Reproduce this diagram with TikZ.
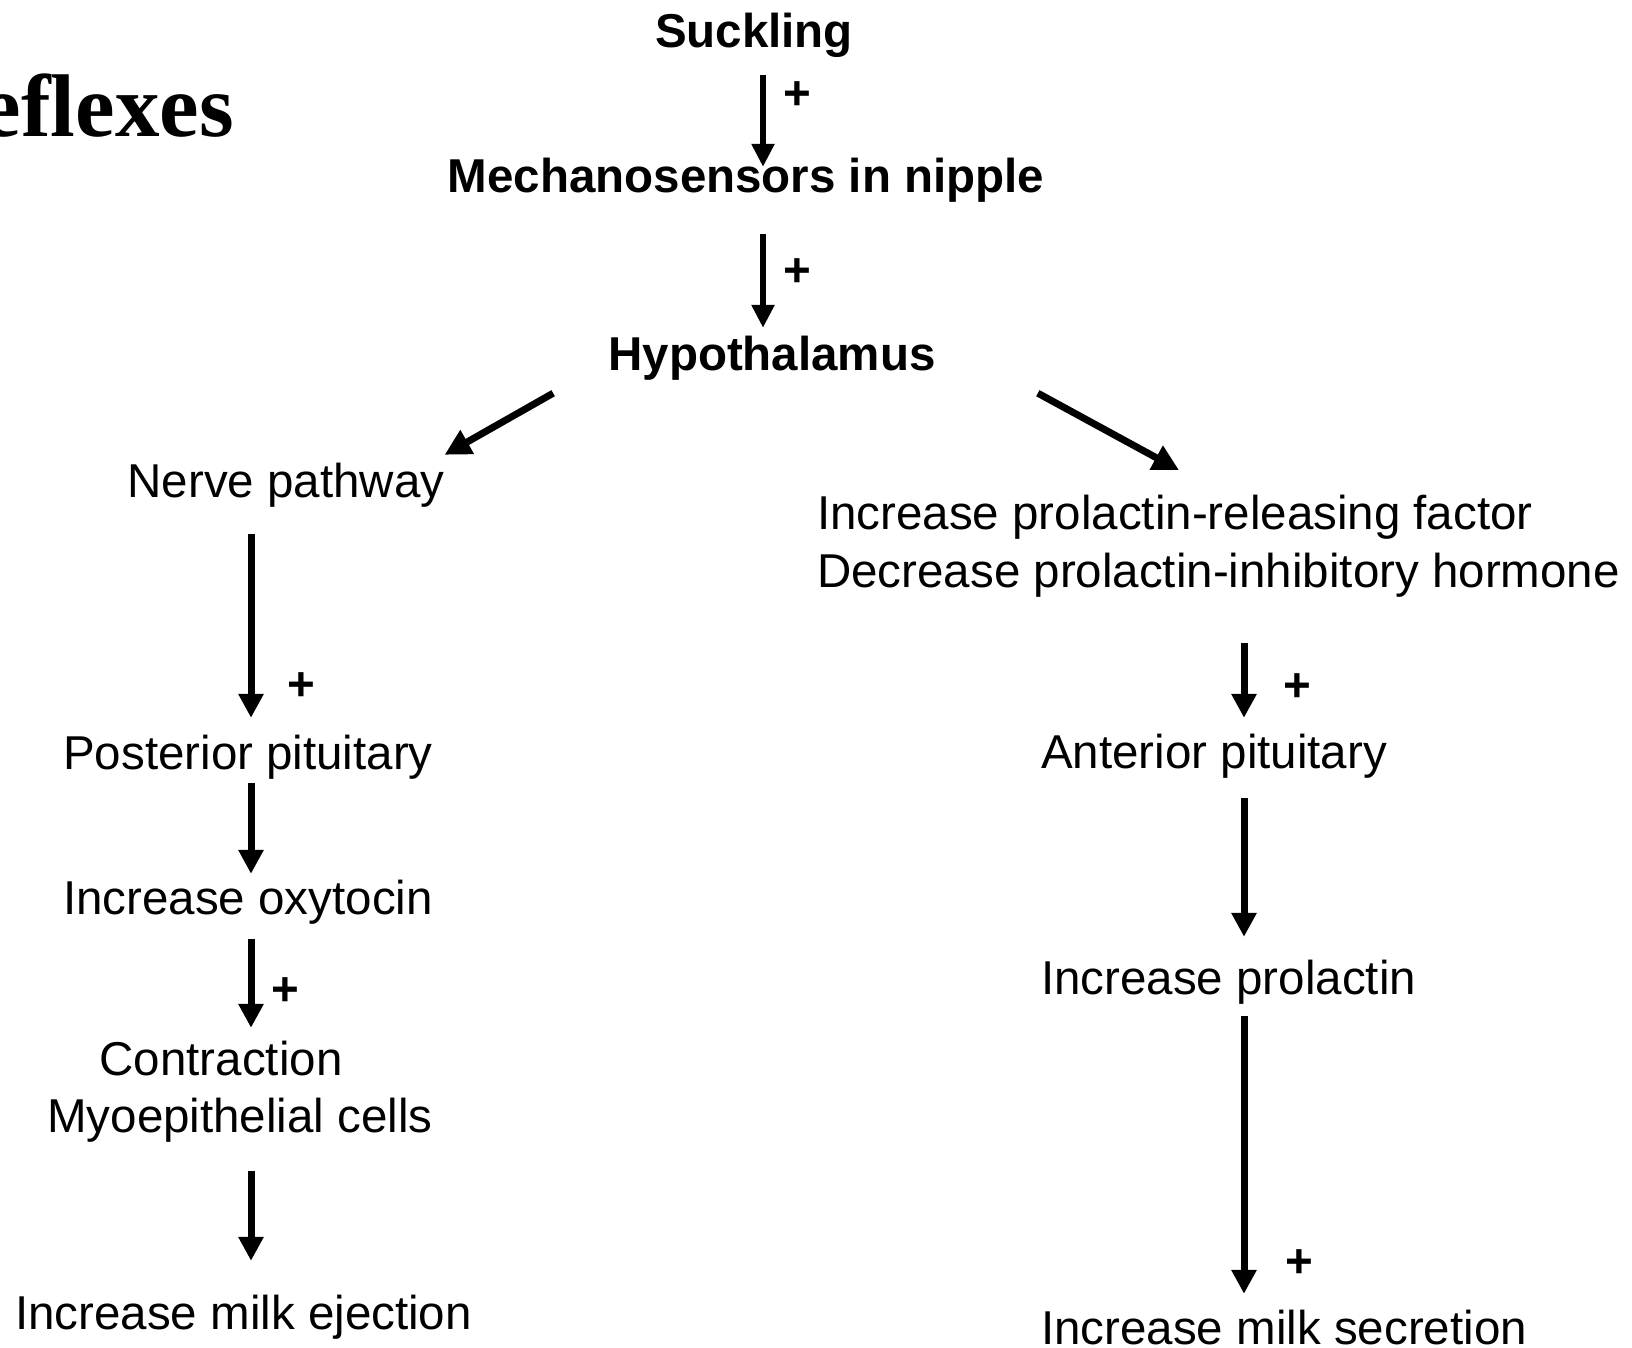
\documentclass[tikz,border=0pt]{standalone}
\usepackage{fontspec}
\setmainfont{Liberation Sans}
\newfontfamily\titlefont{Liberation Serif}
\usetikzlibrary{arrows.meta}
\begin{document}
\begin{tikzpicture}[x=1bp,y=-1bp,
  txt/.style={font=\fontsize{47.5bp}{57bp}\selectfont, inner sep=0, text height=34.7bp, text depth=10bp},
  btxt/.style={txt, font=\fontsize{47.5bp}{57bp}\selectfont\bfseries},
  plus/.style={inner sep=0, font=\fontsize{47.5bp}{57bp}\selectfont\bfseries},
  arr/.style={line width=7bp, -{Triangle[length=24bp,width=24bp]}},
  arrthin/.style={line width=5.5bp, -{Triangle[length=23bp,width=22bp]}},
  arrdiag/.style={line width=7bp, -{Triangle[length=26bp,width=26bp]}}]
\useasboundingbox[fill=white] (0,0) rectangle (1632,1348);
% title fragment
\node[anchor=base east, inner sep=0, font=\titlefont\bfseries\fontsize{89bp}{100bp}\selectfont] (title) at (234,137) {eflexes};
% column x positions
\coordinate (cM) at (763,0);
\coordinate (cL) at (251,0);
\coordinate (cR) at (1244,0);
% nodes
\node[btxt, anchor=base] (suck) at (754,48) {Suckling};
\node[btxt, anchor=base] (mech) at (746,193) {Mechanosensors in nipple};
\node[btxt, anchor=base] (hyp) at (772,370) {Hypothalamus};
\node[txt, anchor=base] (nerve) at (286,497) {Nerve pathway};
\node[txt, anchor=base] (post) at (248,769) {Posterior pituitary};
\node[txt, anchor=base] (oxy) at (248,914) {Increase oxytocin};
\node[txt, anchor=base] (contr) at (221,1075) {Contraction};
\node[txt, anchor=base] (myo) at (240,1132) {Myoepithelial cells};
\node[txt, anchor=base] (eject) at (243.5,1329) {Increase milk ejection};
\node[txt, anchor=base west] (prf) at (817,529) {Increase prolactin-releasing factor};
\node[txt, anchor=base west] (pih) at (817,587) {Decrease prolactin-inhibitory hormone};
\node[txt, anchor=base west] (ant) at (1041,768) {Anterior pituitary};
\node[txt, anchor=base west] (prl) at (1041,994) {Increase prolactin};
\node[txt, anchor=base west] (sec) at (1041,1344) {Increase milk secretion};
% connectors
\draw[arrthin, shorten <=17bp, shorten >=-8.7bp] (suck.south -| cM) -- (mech.north -| cM);
\draw[arrthin, shorten <=31bp, shorten >=7.3bp] (mech.south -| cM) -- (hyp.north -| cM);
\draw[arrdiag] ([xshift=-55bp,yshift=-13bp]hyp.south west) -- ([yshift=7.3bp]nerve.north east);
\draw[arrdiag] ([xshift=102bp,yshift=-13bp]hyp.south east) -- ([xshift=362bp,yshift=24bp]prf.north west);
\draw[arr, shorten <=27bp, shorten >=16.3bp] (nerve.south -| cL) -- (post.north -| cL);
\draw[arr, shorten <=4bp, shorten >=5.3bp] (post.south -| cL) -- (oxy.north -| cL);
\draw[arr, shorten <=15bp, shorten >=12.3bp] (oxy.south -| cL) -- (contr.north -| cL);
\draw[arr, shorten <=29bp, shorten >=33.3bp] (myo.south -| cL) -- (eject.north -| cL);
\draw[arr, shorten <=46bp, shorten >=15.3bp] (pih.south -| cR) -- (ant.north -| cR);
\draw[arr, shorten <=20bp, shorten >=22.3bp] (ant.south -| cR) -- (prl.north -| cR);
\draw[arr, shorten <=12bp, shorten >=15.3bp] (prl.south -| cR) -- (sec.north -| cR);
% plus labels
\node[plus] (p1) at (797,96) {+};
\node[plus] (p2) at (797,273) {+};
\node[plus] (p3) at (301,687) {+};
\node[plus] (p4) at (285,992) {+};
\node[plus] (p5) at (1297,688) {+};
\node[plus] (p6) at (1299,1264) {+};
\end{tikzpicture}
\end{document}
